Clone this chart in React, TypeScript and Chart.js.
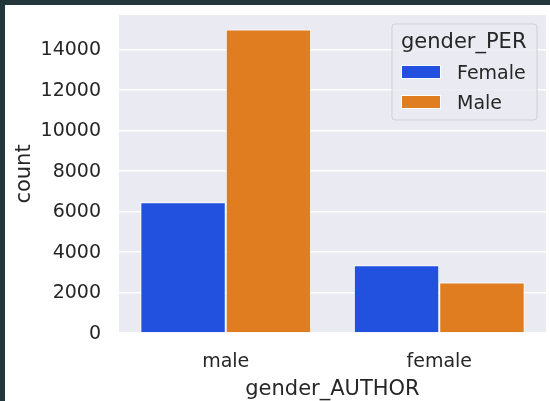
import React, { useEffect, useRef } from "react";
import { Chart, registerables } from "chart.js";

Chart.register(...registerables);

const categories = ["male", "female"];
const seriesNames = ["Female", "Male"];
const femaleCounts = [6460, 3350];
const maleCounts = [14980, 2490];
const yTickValues = [0, 2000, 4000, 6000, 8000, 10000, 12000, 14000];
const yMax = 15700;

const BLUE = "#2251df";
const ORANGE = "#df7d20";
const TEXT = "#262626";
const FONT = "DejaVu Sans";

const legendPlugin = {
  id: "seabornLegend",
  afterDraw(chart: any) {
    const ctx = chart.ctx;
    const area = chart.chartArea;
    const boxW = 145;
    const boxH = 96;
    const x = area.right - 9 - boxW;
    const y = area.top + 9;
    ctx.save();
    ctx.beginPath();
    const r = 3;
    ctx.moveTo(x + r, y);
    ctx.lineTo(x + boxW - r, y);
    ctx.quadraticCurveTo(x + boxW, y, x + boxW, y + r);
    ctx.lineTo(x + boxW, y + boxH - r);
    ctx.quadraticCurveTo(x + boxW, y + boxH, x + boxW - r, y + boxH);
    ctx.lineTo(x + r, y + boxH);
    ctx.quadraticCurveTo(x, y + boxH, x, y + boxH - r);
    ctx.lineTo(x, y + r);
    ctx.quadraticCurveTo(x, y, x + r, y);
    ctx.closePath();
    ctx.fillStyle = "rgba(234,234,242,0.85)";
    ctx.fill();
    ctx.strokeStyle = "#cfcfd6";
    ctx.lineWidth = 1;
    ctx.stroke();

    ctx.fillStyle = TEXT;
    ctx.textBaseline = "alphabetic";
    ctx.textAlign = "left";
    ctx.font = `21px "${FONT}"`;
    ctx.fillText("gender_PER", x + 9, y + 24);

    ctx.font = `19px "${FONT}"`;
    const ds = chart.data.datasets;
    for (let i = 0; i < ds.length; i++) {
      const py = y + 41 + i * 30;
      ctx.fillStyle = ds[i].backgroundColor;
      ctx.fillRect(x + 9, py, 40, 14);
      ctx.strokeStyle = "#ffffff";
      ctx.lineWidth = 1;
      ctx.strokeRect(x + 9.5, py + 0.5, 39, 13);
      ctx.fillStyle = TEXT;
      ctx.fillText(ds[i].label, x + 65, py + 14);
    }
    ctx.restore();
  },
};

export default function App() {
  const ref = useRef<HTMLCanvasElement | null>(null);

  useEffect(() => {
    if (!ref.current) return;
    const chart = new Chart(ref.current, {
      type: "bar",
      data: {
        labels: categories,
        datasets: [
          {
            label: seriesNames[0],
            data: femaleCounts,
            backgroundColor: BLUE,
            borderColor: "#ffffff",
            borderWidth: 1,
          },
          {
            label: seriesNames[1],
            data: maleCounts,
            backgroundColor: ORANGE,
            borderColor: "#ffffff",
            borderWidth: 1,
          },
        ],
      },
      options: {
        responsive: false,
        animation: false,
        layout: { padding: { top: 10, right: 4, left: 0, bottom: 0 } },
        datasets: { bar: { barPercentage: 1, categoryPercentage: 0.8 } },
        plugins: {
          legend: { display: false },
          tooltip: { enabled: false },
        },
        scales: {
          x: {
            grid: { display: false, drawTicks: false },
            border: { display: false },
            ticks: {
              color: TEXT,
              font: { family: FONT, size: 19 },
              padding: 18,
            },
            title: {
              display: true,
              text: "gender_AUTHOR",
              color: TEXT,
              font: { family: FONT, size: 21 },
              padding: { top: 0, bottom: -1 },
            },
            afterFit(scale: any) {
              scale.height = 68;
              scale.paddingLeft = 0;
              scale.paddingRight = 0;
            },
          },
          y: {
            min: 0,
            max: yMax,
            grid: { color: "#ffffff", lineWidth: 1.5, drawTicks: false },
            border: { display: false },
            afterBuildTicks(scale: any) {
              scale.ticks = yTickValues.map((v) => ({ value: v }));
            },
            ticks: {
              color: TEXT,
              font: { family: FONT, size: 19 },
              padding: 18,
              labelOffset: 1,
              callback: (v: any) => String(v),
            },
            title: {
              display: true,
              text: "count",
              color: TEXT,
              font: { family: FONT, size: 21 },
              padding: { top: 7, bottom: 0 },
            },
            afterFit(scale: any) {
              scale.width = 114;
              scale.paddingTop = 0;
              scale.paddingBottom = 0;
            },
          },
        },
      },
      plugins: [
        {
          id: "plotBg",
          beforeDraw(c: any) {
            const a = c.chartArea;
            c.ctx.save();
            c.ctx.fillStyle = "#eaeaf2";
            c.ctx.fillRect(a.left, a.top, a.right - a.left, a.bottom - a.top);
            c.ctx.restore();
          },
        },
        legendPlugin,
      ],
    } as any);
    return () => chart.destroy();
  }, []);

  return (
    <div
      style={{
        position: "fixed",
        left: 0,
        top: 0,
        width: 550,
        height: 401,
        background: "#ffffff",
        overflow: "hidden",
      }}
    >
      <div style={{ position: "absolute", left: 0, top: 0, width: 550, height: 5, background: "#22373b" }} />
      <div style={{ position: "absolute", left: 0, top: 0, width: 5, height: 401, background: "#22373b" }} />
      <canvas
        ref={ref}
        width={545}
        height={396}
        style={{ position: "absolute", left: 5, top: 5, width: 545, height: 396 }}
      />
    </div>
  );
}
